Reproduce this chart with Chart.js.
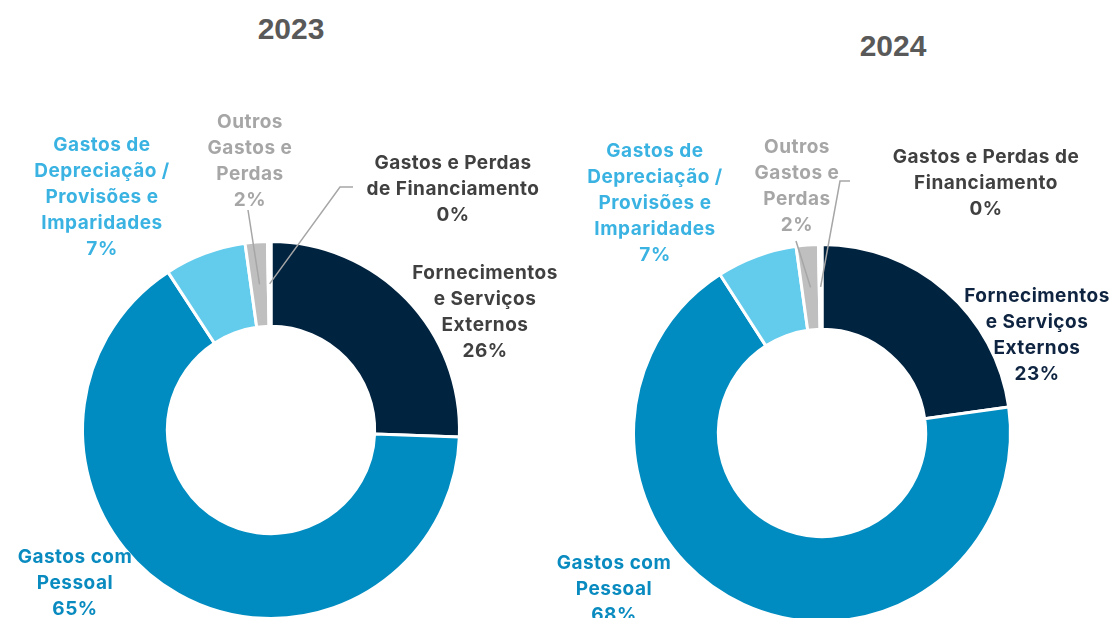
<!DOCTYPE html>
<html>
<head>
<meta charset="utf-8">
<script src="https://cdn.jsdelivr.net/npm/chart.js@4.4.1/dist/chart.umd.min.js"></script>
<style>
    html, body { margin: 0; padding: 0; background: #fff; overflow: hidden; }
    #wrap { position: relative; width: 1115px; height: 618px; overflow: hidden; }
    canvas { position: absolute; top: 0; }
    .year { position: absolute; font: bold 30px "Liberation Sans", Arial, sans-serif; color: #595959; transform: translate(-50%, -50%); }
</style>
</head>
<body>
<div id="wrap">
    <div class="year" id="title-2023" style="left:291px; top:29px;">2023</div>
    <div class="year" id="title-2024" style="left:893px; top:46px;">2024</div>
    <canvas id="chart-2023" width="557" height="640" style="left:0;"></canvas>
    <canvas id="chart-2024" width="558" height="640" style="left:557px;"></canvas>
</div>
<script>
// Categories (order drawn clockwise from 12 o'clock)
const categories = [
    'Fornecimentos e Serviços Externos',
    'Gastos com Pessoal',
    'Gastos de Depreciação / Provisões e Imparidades',
    'Outros Gastos e Perdas',
    'Gastos e Perdas de Financiamento'
];

// Shares in %
const values2023 = [25.6, 65.2, 7.0, 1.9, 0.3];
const values2024 = [22.8, 68.1, 6.9, 1.9, 0.3];

// Label text as wrapped in each chart (percent is appended)
const labelLines2023 = [
    ['Fornecimentos', 'e Serviços', 'Externos'],
    ['Gastos com', 'Pessoal'],
    ['Gastos de', 'Depreciação /', 'Provisões e', 'Imparidades'],
    ['Outros', 'Gastos e', 'Perdas'],
    ['Gastos e Perdas', 'de Financiamento']
];
const labelLines2024 = [
    ['Fornecimentos', 'e Serviços', 'Externos'],
    ['Gastos com', 'Pessoal'],
    ['Gastos de', 'Depreciação /', 'Provisões e', 'Imparidades'],
    ['Outros', 'Gastos e', 'Perdas'],
    ['Gastos e Perdas de', 'Financiamento']
];

const sliceColors = ['#002340', '#008CC0', '#63CBEC', '#BFBFBF', '#FFFFFF'];

// Label placement relative to the doughnut centre: [dx, dy of first line]
const labelPos2023 = [[214, -157], [-196, 127], [-169, -285], [-21, -308], [182, -267]];
const labelPos2024 = [[215, -137], [-208, 130], [-167, -282], [-25, -286], [164, -276]];
const labelColors2023 = ['#404040', '#0A8BC0', '#3AB3E2', '#A6A6A6', '#404040'];
const labelColors2024 = ['#0E2440', '#0A8BC0', '#3AB3E2', '#A6A6A6', '#404040'];

// Leader lines: points relative to centre, ending at the slice's mid point
const leaders2023 = { 3: [[-23, -220]], 4: [[82, -243], [69, -243]] };
const leaders2024 = { 3: [[-26, -192]], 4: [[28, -252], [18, -252]] };

const lineHeight = 26;

function outsideLabels(lines, positions, colors, leaders) {
    return {
        id: 'outsideLabels',
        afterDatasetsDraw(chart) {
            const ctx = chart.ctx;
            const meta = chart.getDatasetMeta(0);
            const values = chart.data.datasets[0].data;
            ctx.save();

            // leader lines first
            Object.keys(leaders).forEach(key => {
                const i = Number(key);
                const arc = meta.data[i];
                const p = arc.getProps(['x', 'y', 'startAngle', 'endAngle', 'innerRadius', 'outerRadius'], true);
                const mid = (p.startAngle + p.endAngle) / 2;
                const r = (p.innerRadius + p.outerRadius) / 2;
                ctx.beginPath();
                leaders[key].forEach((pt, j) => {
                    if (j === 0) ctx.moveTo(p.x + pt[0], p.y + pt[1]);
                    else ctx.lineTo(p.x + pt[0], p.y + pt[1]);
                });
                ctx.lineTo(p.x + Math.cos(mid) * r, p.y + Math.sin(mid) * r);
                ctx.strokeStyle = '#A6A6A6';
                ctx.lineWidth = 1.5;
                ctx.stroke();
            });

            ctx.font = 'bold 19px Inter, "Noto Sans", sans-serif';
            ctx.letterSpacing = '0.5px';
            ctx.textAlign = 'center';
            ctx.textBaseline = 'middle';
            meta.data.forEach((arc, i) => {
                const cx = arc.x;
                const cy = arc.y;
                const text = lines[i].concat([Math.round(values[i]) + '%']);
                ctx.fillStyle = colors[i];
                text.forEach((t, k) => {
                    ctx.fillText(t, cx + positions[i][0], cy + positions[i][1] + k * lineHeight);
                });
            });
            ctx.restore();
        }
    };
}

function makeChart(id, values, padding, lines, positions, colors, leaders) {
    const ctx = document.getElementById(id).getContext('2d');
    return new Chart(ctx, {
        type: 'doughnut',
        data: {
            labels: categories,
            datasets: [{
                data: values,
                backgroundColor: sliceColors,
                borderColor: '#FFFFFF',
                borderWidth: 3
            }]
        },
        options: {
            responsive: false,
            devicePixelRatio: 1,
            animation: false,
            cutout: '55%',
            layout: { padding: padding },
            plugins: {
                legend: { display: false },
                tooltip: { enabled: false }
            },
            events: []
        },
        plugins: [outsideLabels(lines, positions, colors, leaders)]
    });
}

makeChart('chart-2023', values2023, { left: 81, right: 96, top: 240, bottom: 20 },
    labelLines2023, labelPos2023, labelColors2023, leaders2023);
makeChart('chart-2024', values2024, { left: 75, right: 103, top: 242, bottom: 16 },
    labelLines2024, labelPos2024, labelColors2024, leaders2024);
</script>
</body>
</html>
